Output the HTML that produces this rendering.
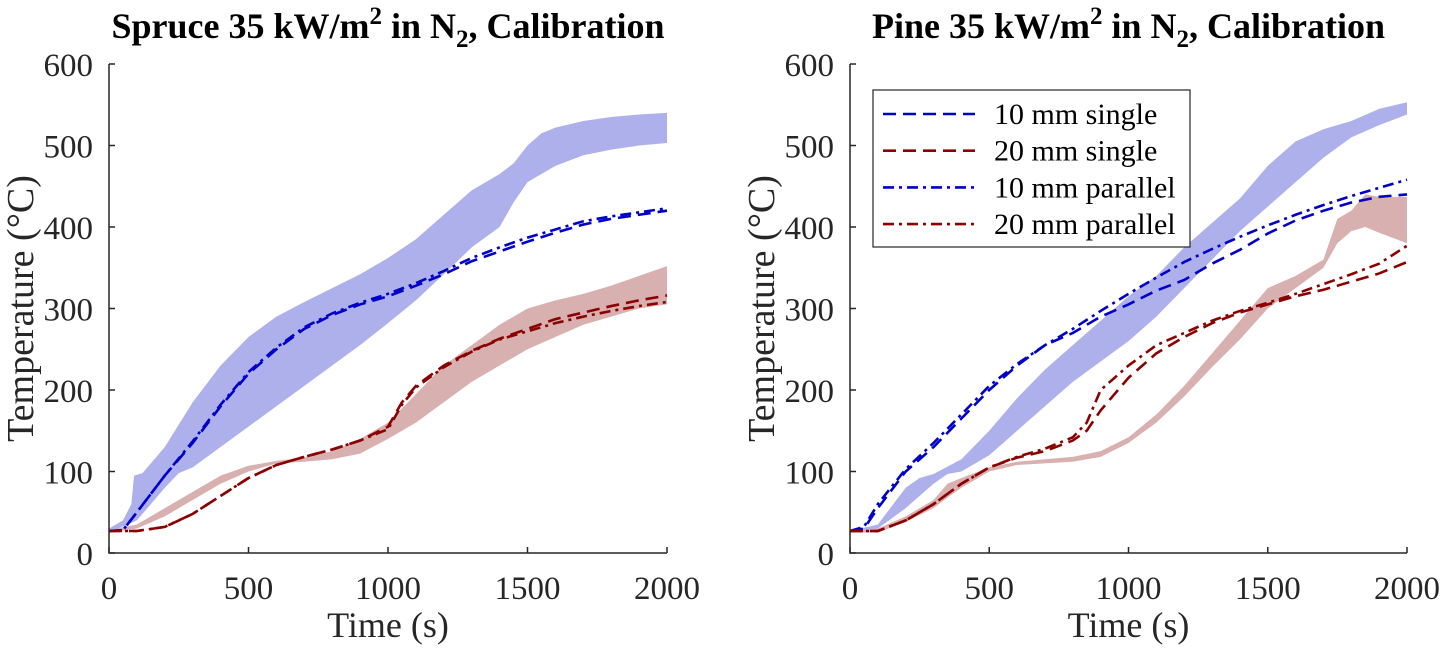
<!DOCTYPE html>
<html><head><meta charset="utf-8"><style>
body{margin:0;background:#fff}
svg{display:block;font-family:"Liberation Serif",serif}
</style></head><body>
<svg id="chart" width="1440" height="652"></svg>
<script>
const T1=[0,100,200,300,400,500,600,700,800,900,1000,1100,1200,1300,1400,1500,1600,1700,1800,1900,2000];
// Spruce
const sBlueUpT=[0,50,80,90,120,200,300,400,500,600,700,800,900,1000,1100,1200,1300,1400,1450,1500,1550,1600,1700,1800,1900,2000];
const sBlueUp=[30,40,60,95,98,130,185,230,265,290,308,325,342,362,385,415,445,465,478,500,515,522,530,535,538,540];
const sBlueLoT=[0,100,200,250,300,400,500,600,700,800,900,1000,1100,1200,1300,1400,1450,1500,1600,1700,1800,1900,2000];
const sBlueLo=[25,40,80,98,105,130,155,180,205,230,255,282,310,342,375,400,430,455,475,488,495,500,503];
const sRedUp=[28,35,55,75,95,107,113,117,125,140,160,195,230,255,280,300,310,318,328,340,352];
const sRedLo=[25,30,45,65,85,100,110,112,115,122,140,160,185,210,230,250,265,280,290,300,305];
const sLineT=[0,50,100,200,300,400,500,600,700,800,900,1000,1100,1200,1300,1400,1500,1600,1700,1800,1900,2000];
const sBlueSingle=[27,28,50,95,135,180,220,250,275,292,305,315,328,342,358,370,382,393,403,410,415,420];
const sBluePar=[27,28,50,95,137,182,222,252,277,294,307,318,331,346,362,375,387,397,407,413,418,423];
const sRedT=[0,100,200,300,400,500,600,700,800,900,1000,1050,1100,1200,1300,1400,1500,1600,1700,1800,1900,2000];
const sRedSingle=[27,27,32,48,70,92,108,118,127,138,155,185,205,230,248,263,275,287,295,303,310,316];
const sRedPar=[27,27,32,48,70,92,108,118,127,138,152,182,203,228,247,262,272,282,290,297,303,308];
// Pine
const pBlueUpT=[0,100,200,250,300,400,500,600,700,800,900,1000,1100,1200,1300,1400,1500,1600,1700,1800,1900,2000];
const pBlueUp=[27,35,80,92,97,115,150,190,225,255,285,315,340,375,405,435,475,505,520,530,545,553];
const pBlueLoT=[0,100,200,300,350,400,500,600,700,800,900,1000,1100,1200,1300,1400,1500,1600,1700,1800,1900,2000];
const pBlueLo=[25,30,55,85,97,100,120,150,180,210,235,260,290,325,360,395,425,455,485,510,525,538];
const pRedBandT=[0,100,200,300,350,400,500,600,700,800,900,1000,1100,1200,1300,1400,1500,1600,1700,1750,1800,1850,1900,2000];
const pRedUp=[27,30,45,65,85,92,105,112,115,118,125,142,170,205,245,285,325,340,360,410,420,440,437,437];
const pRedLo=[25,25,38,55,68,80,100,108,110,112,118,135,160,192,228,262,300,325,350,380,395,400,393,380];
const pLineT=[0,50,100,200,300,400,500,600,700,800,900,1000,1100,1200,1300,1400,1500,1600,1700,1800,1900,2000];
const pBlueSingle=[27,30,55,100,130,165,200,230,255,270,290,305,322,335,355,372,392,408,420,430,437,440];
const pBluePar=[27,32,60,103,135,170,205,232,255,275,297,318,338,357,373,388,402,415,427,438,448,458];
const pRedT=[0,100,200,300,400,500,600,700,800,850,900,1000,1100,1200,1300,1400,1500,1600,1700,1800,1900,2000];
const pRedSingle=[27,27,40,60,85,105,117,125,138,150,175,215,245,265,282,295,305,315,323,333,343,357];
const pRedPar=[27,27,40,60,85,105,118,128,142,160,200,230,255,270,285,297,307,318,330,342,355,377];
const xTicks=[0,500,1000,1500,2000];
const yTicks=[0,100,200,300,400,500,600];
const legendLabels=["10 mm single","20 mm single","10 mm parallel","20 mm parallel"];

const NS="http://www.w3.org/2000/svg";
const svg=document.getElementById('chart');
function mk(tag,attrs,parent){const e=document.createElementNS(NS,tag);for(const k in attrs)e.setAttribute(k,attrs[k]);(parent||svg).appendChild(e);return e;}
const BLUE="#0000c8",RED="#8b0000",BB="#aeb0ec",RB="#d9b0b0";
const DASH="13,7",DASHDOT="11,5,3,5";

function panel(x0,x1,titleMain,name,bands,lines,legend){
  const y0=553,y1=64;
  const sx=t=>x0+(t/2000)*(x1-x0), sy=v=>y0-(v/600)*(y0-y1);
  const g=mk('g',{});
  
  
  bands.forEach(b=>{
    let d='M'+b.ut.map((t,i)=>sx(t)+','+sy(b.u[i])).join(' L');
    for(let i=b.lt.length-1;i>=0;i--)d+=' L'+sx(b.lt[i])+','+sy(b.l[i]);
    const p=mk('path',{d:d+'Z',fill:b.c,stroke:'none'},g);
    
    
  });
  lines.forEach(l=>{
    const p=mk('polyline',{points:l.t.map((t,i)=>sx(t)+','+sy(l.v[i])).join(' '),fill:'none',stroke:l.c,'stroke-width':2.6,'stroke-dasharray':l.d},g);
    
    
  });
  mk('path',{d:`M${x0},${y1} L${x0},${y0} L${x1},${y0}`,fill:'none',stroke:'#262626','stroke-width':1.5},g);
  xTicks.forEach(t=>{
    mk('line',{x1:sx(t),x2:sx(t),y1:y0,y2:y0-6,stroke:'#262626','stroke-width':1.5},g);
    const tx=mk('text',{x:sx(t),y:y0+46,'text-anchor':'middle','font-size':33,fill:'#262626'},g);
    tx.textContent=t;
    
    
  });
  yTicks.forEach(v=>{
    mk('line',{x1:x0,x2:x0+6,y1:sy(v),y2:sy(v),stroke:'#262626','stroke-width':1.5},g);
    const tx=mk('text',{x:x0-16,y:sy(v)+12,'text-anchor':'end','font-size':33,fill:'#262626'},g);
    tx.textContent=v;
    
    
  });
  const xl=mk('text',{x:(x0+x1)/2,y:637,'text-anchor':'middle','font-size':36,fill:'#262626'},g);
  xl.textContent='Time (s)';
  
  
  const yl=mk('text',{x:0,y:0,'text-anchor':'middle','font-size':38,fill:'#262626',transform:`translate(${x0-76},${(y0+y1)/2}) rotate(-90)`},g);
  yl.textContent='Temperature (°C)';
  
  
  const tt=mk('text',{x:(x0+x1)/2,y:38,'text-anchor':'middle','font-size':36,'font-weight':'bold',fill:'#000'},g);
  
  
  const parts=[[titleMain+' 35 kW/m',0,36],['2',-14,25],[' in N',14,36],['2',9,25],[', Calibration',-9,36]];
  parts.forEach(p=>{const s=mk('tspan',{dy:p[1],'font-size':p[2]},tt);s.textContent=p[0];});
  if(legend){
    const lg=mk('g',{},g);
    
    
    mk('rect',{x:873,y:90,width:317,height:157,fill:'#fff',stroke:'#262626','stroke-width':1.2},lg);
    const cs=[BLUE,RED,BLUE,RED],ds=[DASH,DASH,DASHDOT,DASHDOT];
    legendLabels.forEach((s,i)=>{
      const y=114+i*36.7;
      const e=mk('g',{},lg);
      
      
      mk('line',{x1:883,x2:975,y1:y,y2:y,stroke:cs[i],'stroke-width':2.6,'stroke-dasharray':ds[i]},e);
      const tx=mk('text',{x:994,y:y+10,'font-size':30,fill:'#000'},e);
      tx.textContent=s;
    });
  }
}
panel(109,667,'Spruce','spruce-panel',
 [{ut:sBlueUpT,u:sBlueUp,lt:sBlueLoT,l:sBlueLo,c:BB,n:'band-10mm'},{ut:T1,u:sRedUp,lt:T1,l:sRedLo,c:RB,n:'band-20mm'}],
 [{t:sLineT,v:sBlueSingle,c:BLUE,d:DASH,n:'line-10mm-single'},{t:sLineT,v:sBluePar,c:BLUE,d:DASHDOT,n:'line-10mm-parallel'},
  {t:sRedT,v:sRedSingle,c:RED,d:DASH,n:'line-20mm-single'},{t:sRedT,v:sRedPar,c:RED,d:DASHDOT,n:'line-20mm-parallel'}],false);
panel(850,1407,'Pine','pine-panel',
 [{ut:pBlueUpT,u:pBlueUp,lt:pBlueLoT,l:pBlueLo,c:BB,n:'band-10mm'},{ut:pRedBandT,u:pRedUp,lt:pRedBandT,l:pRedLo,c:RB,n:'band-20mm'}],
 [{t:pLineT,v:pBlueSingle,c:BLUE,d:DASH,n:'line-10mm-single'},{t:pLineT,v:pBluePar,c:BLUE,d:DASHDOT,n:'line-10mm-parallel'},
  {t:pRedT,v:pRedSingle,c:RED,d:DASH,n:'line-20mm-single'},{t:pRedT,v:pRedPar,c:RED,d:DASHDOT,n:'line-20mm-parallel'}],true);
</script>
</body></html>
